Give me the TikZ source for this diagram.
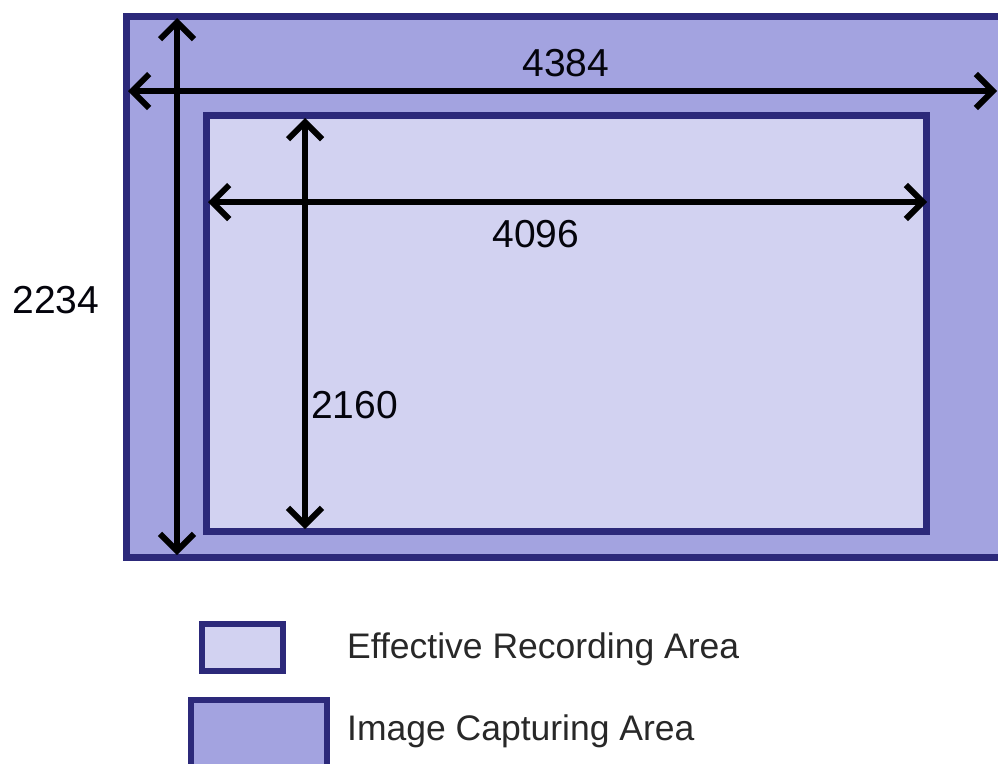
\documentclass[tikz,border=0pt]{standalone}
\usepackage{xcolor}
\usepackage{fontspec}
\setmainfont{Liberation Sans}
\usetikzlibrary{arrows.meta, positioning}
\definecolor{capfill}{RGB}{163, 163, 224}
\definecolor{recfill}{RGB}{210, 210, 241}
\definecolor{edgenavy}{RGB}{44, 41, 122}
\definecolor{labelgray}{RGB}{40, 40, 40}

\tikzset{
    dimarrow/.style={line width=6pt, black, {Straight Barb[length=17pt, width=34pt, line width=6pt]}-{Straight Barb[length=17pt, width=34pt, line width=6pt]}},
    dimlabel/.style={inner sep=0pt, text=black!90!edgenavy, font=\fontsize{39}{41}\selectfont},
    legendlabel/.style={inner sep=0pt, anchor=base west, text=labelgray, font=\fontsize{35.5}{38}\selectfont},
}

\begin{document}
\begin{tikzpicture}[x=1pt, y=-1pt]
    \clip (0,0) rectangle (998,763);
    \fill[white] (0,0) rectangle (998,763);

    % Image capturing area (outer)
    \draw[line width=7pt, edgenavy, fill=capfill] (126.5,16.5) rectangle (1006,557);

    % Effective recording area (inner)
    \draw[line width=7pt, edgenavy, fill=recfill] (206.5,115.5) rectangle (926,531);

    % Ends of the dimension lines
    \coordinate (capL) at (128,91);
    \coordinate (capR) at (997,91);
    \coordinate (capT) at (177,18);
    \coordinate (capB) at (177,555);
    \coordinate (recL) at (208,202);
    \coordinate (recR) at (927,202);
    \coordinate (recT) at (305,118);
    \coordinate (recB) at (305,529);

    % Dimension lines
    \draw[dimarrow] (capL) -- (capR);
    \draw[dimarrow] (capT) -- (capB);
    \draw[dimarrow] (recL) -- (recR);
    \draw[dimarrow] (recT) -- (recB);

    % Numbers
    \node[dimlabel] (capW) at (566,63) {4384};
    \node[dimlabel] (capH) at (56,300) {2234};
    \node[dimlabel] (recW) at (536,234) {4096};
    \node[dimlabel, anchor=west] (recH) at (311,405) {2160};

    % Legend
    \draw[line width=6pt, edgenavy, fill=recfill] (202,624) rectangle (283,671);
    \draw[line width=6pt, edgenavy, fill=capfill] (191,700) rectangle (327,772);
    \node[legendlabel] (recText) at (347,658) {Effective Recording Area};
    \node[legendlabel] (capText) at (347,740) {Image Capturing Area};
\end{tikzpicture}
\end{document}
